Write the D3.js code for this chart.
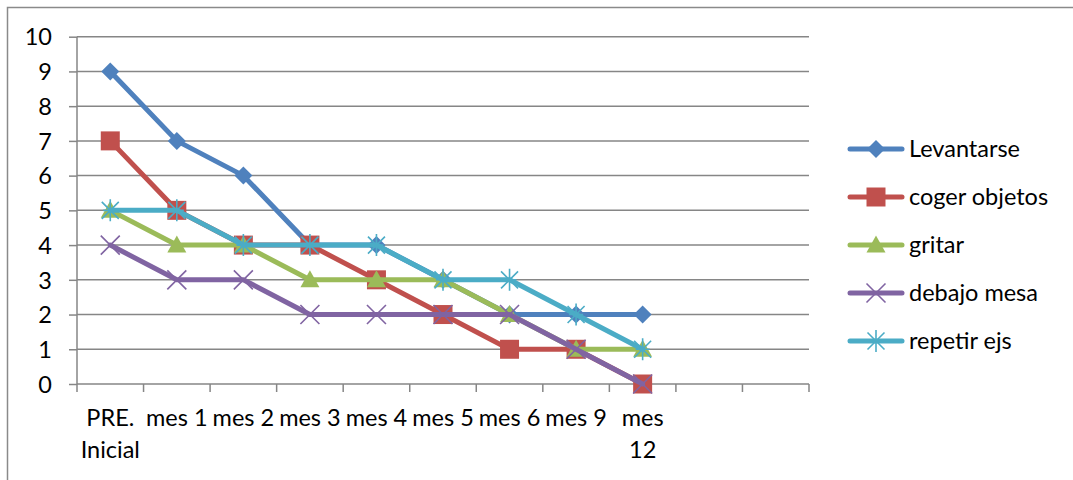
<!DOCTYPE html>
<html><head><meta charset="utf-8">
<script src="https://cdn.jsdelivr.net/npm/d3@7"></script>
<style>body{margin:0;background:#fff;} svg{display:block;} text{font-family:Lato, "Open Sans", sans-serif;fill:#000;}</style>
</head><body>
<svg id="c" width="1073" height="480"></svg>
<script>
const categories = [["PRE.","Inicial"],["mes 1"],["mes 2"],["mes 3"],["mes 4"],["mes 5"],["mes 6"],["mes 9"],["mes","12"],[""],[""]];
const seriesNames = ["Levantarse","coger objetos","gritar","debajo mesa","repetir ejs"];
const levantarse = [9,7,6,4,4,3,2,2,2];
const cogerObjetos = [7,5,4,4,3,2,1,1,0];
const gritar = [5,4,4,3,3,3,2,1,1];
const debajoMesa = [4,3,3,2,2,2,2,1,0];
const repetirEjs = [5,5,4,4,4,3,3,2,1];
const yTicks = [0,1,2,3,4,5,6,7,8,9,10];

const colors = ["#4F81BD","#C0504D","#9BBB59","#8064A2","#4BACC6"];
const markers = ["diamond","square","triangle","x","star"];
const series = [levantarse,cogerObjetos,gritar,debajoMesa,repetirEjs].map((v,i)=>({name:seriesNames[i],values:v,color:colors[i],marker:markers[i]}));
const FS = "23.5px";

const svg = d3.select("#c");
// outer border
svg.append("rect").attr("x",7.5).attr("y",7.5).attr("width",1080).attr("height",490)
  .attr("fill","none").attr("stroke","#8a8a8a").attr("stroke-width",1.5);

const x = d3.scaleBand().domain(d3.range(categories.length)).range([77,809]);
const y = d3.scaleLinear().domain([0,10]).range([384,36.7]);

// gridlines
svg.append("g").selectAll("line").data(yTicks.filter(d=>d>0)).join("line")
  .attr("x1",77).attr("x2",809).attr("y1",d=>y(d)).attr("y2",d=>y(d))
  .attr("stroke","#868686").attr("stroke-width",1.5);

// y axis
const ya = svg.append("g").attr("transform","translate(77,0)")
  .call(d3.axisLeft(y).tickValues(yTicks).tickSize(8).tickPadding(17).tickFormat(d3.format("d")));
ya.select(".domain").attr("stroke","#868686").attr("stroke-width",1.5).attr("d","M0,"+y(10)+"V"+y(0));
ya.selectAll(".tick line").attr("stroke","#868686").attr("stroke-width",1.5);
ya.selectAll("text").style("font-size",FS).attr("font-family","Lato, sans-serif").attr("fill","#000").attr("dy","0.35em");

// x axis
const xa = svg.append("g").attr("transform","translate(0,384)");
xa.append("line").attr("x1",77).attr("x2",809).attr("y1",0).attr("y2",0).attr("stroke","#868686").attr("stroke-width",1.5);
xa.selectAll("line.t").data(d3.range(categories.length+1)).join("line").attr("class","t")
  .attr("x1",d=>d<categories.length?x(d):x.range()[1]).attr("x2",d=>d<categories.length?x(d):x.range()[1])
  .attr("y1",0).attr("y2",8).attr("stroke","#868686").attr("stroke-width",1.5);
const xl = xa.selectAll("text.l").data(categories).join("text").attr("class","l")
  .attr("text-anchor","middle").style("font-size",FS)
  .attr("transform",(d,i)=>`translate(${x(i)+x.bandwidth()/2},0)`);
xl.selectAll("tspan").data(d=>d).join("tspan").attr("x",0).attr("y",(d,i)=>42+i*32).text(d=>d);

// marker paths
function markerPath(type){
  switch(type){
    case "diamond": return "M0,-9L9,0L0,9L-9,0Z";
    case "square": return "M-9.5,-9.5H9.5V9.5H-9.5Z";
    case "triangle": return "M0,-9.5L9.5,7.5H-9.5Z";
    case "x": return "M-9.5,-9.5L9.5,9.5M-9.5,9.5L9.5,-9.5";
    case "star": return "M-8.5,-8.5L8.5,8.5M-8.5,8.5L8.5,-8.5M0,-11V11M-7,0H7";
  }
}
function drawMarker(g,type,color){
  const filled = type==="diamond"||type==="square"||type==="triangle";
  g.append("path").attr("d",markerPath(type))
    .attr("fill",filled?color:"none").attr("stroke",color).attr("stroke-width",filled?0:1.6);
}

const line = d3.line().x((d,i)=>x(i)+x.bandwidth()/2).y(d=>y(d));
series.forEach(s=>{
  const g = svg.append("g");
  g.append("path").attr("d",line(s.values)).attr("fill","none").attr("stroke",s.color)
    .attr("stroke-width",5).attr("stroke-linejoin","round").attr("stroke-linecap","round");
  s.values.forEach((v,i)=>{
    const m = g.append("g").attr("transform",`translate(${x(i)+x.bandwidth()/2},${y(v)})`);
    drawMarker(m,s.marker,s.color);
  });
});

// legend
const leg = svg.append("g");
series.forEach((s,i)=>{
  const yy = 149 + i*48;
  const g = leg.append("g").attr("transform",`translate(0,${yy})`);
  g.append("line").attr("x1",850).attr("x2",902).attr("y1",0).attr("y2",0)
    .attr("stroke",s.color).attr("stroke-width",5).attr("stroke-linecap","round");
  const m = g.append("g").attr("transform","translate(876,0)");
  drawMarker(m,s.marker,s.color);
  g.append("text").attr("x",909).attr("y",8).style("font-size",FS).text(s.name);
});
</script>
</body></html>
